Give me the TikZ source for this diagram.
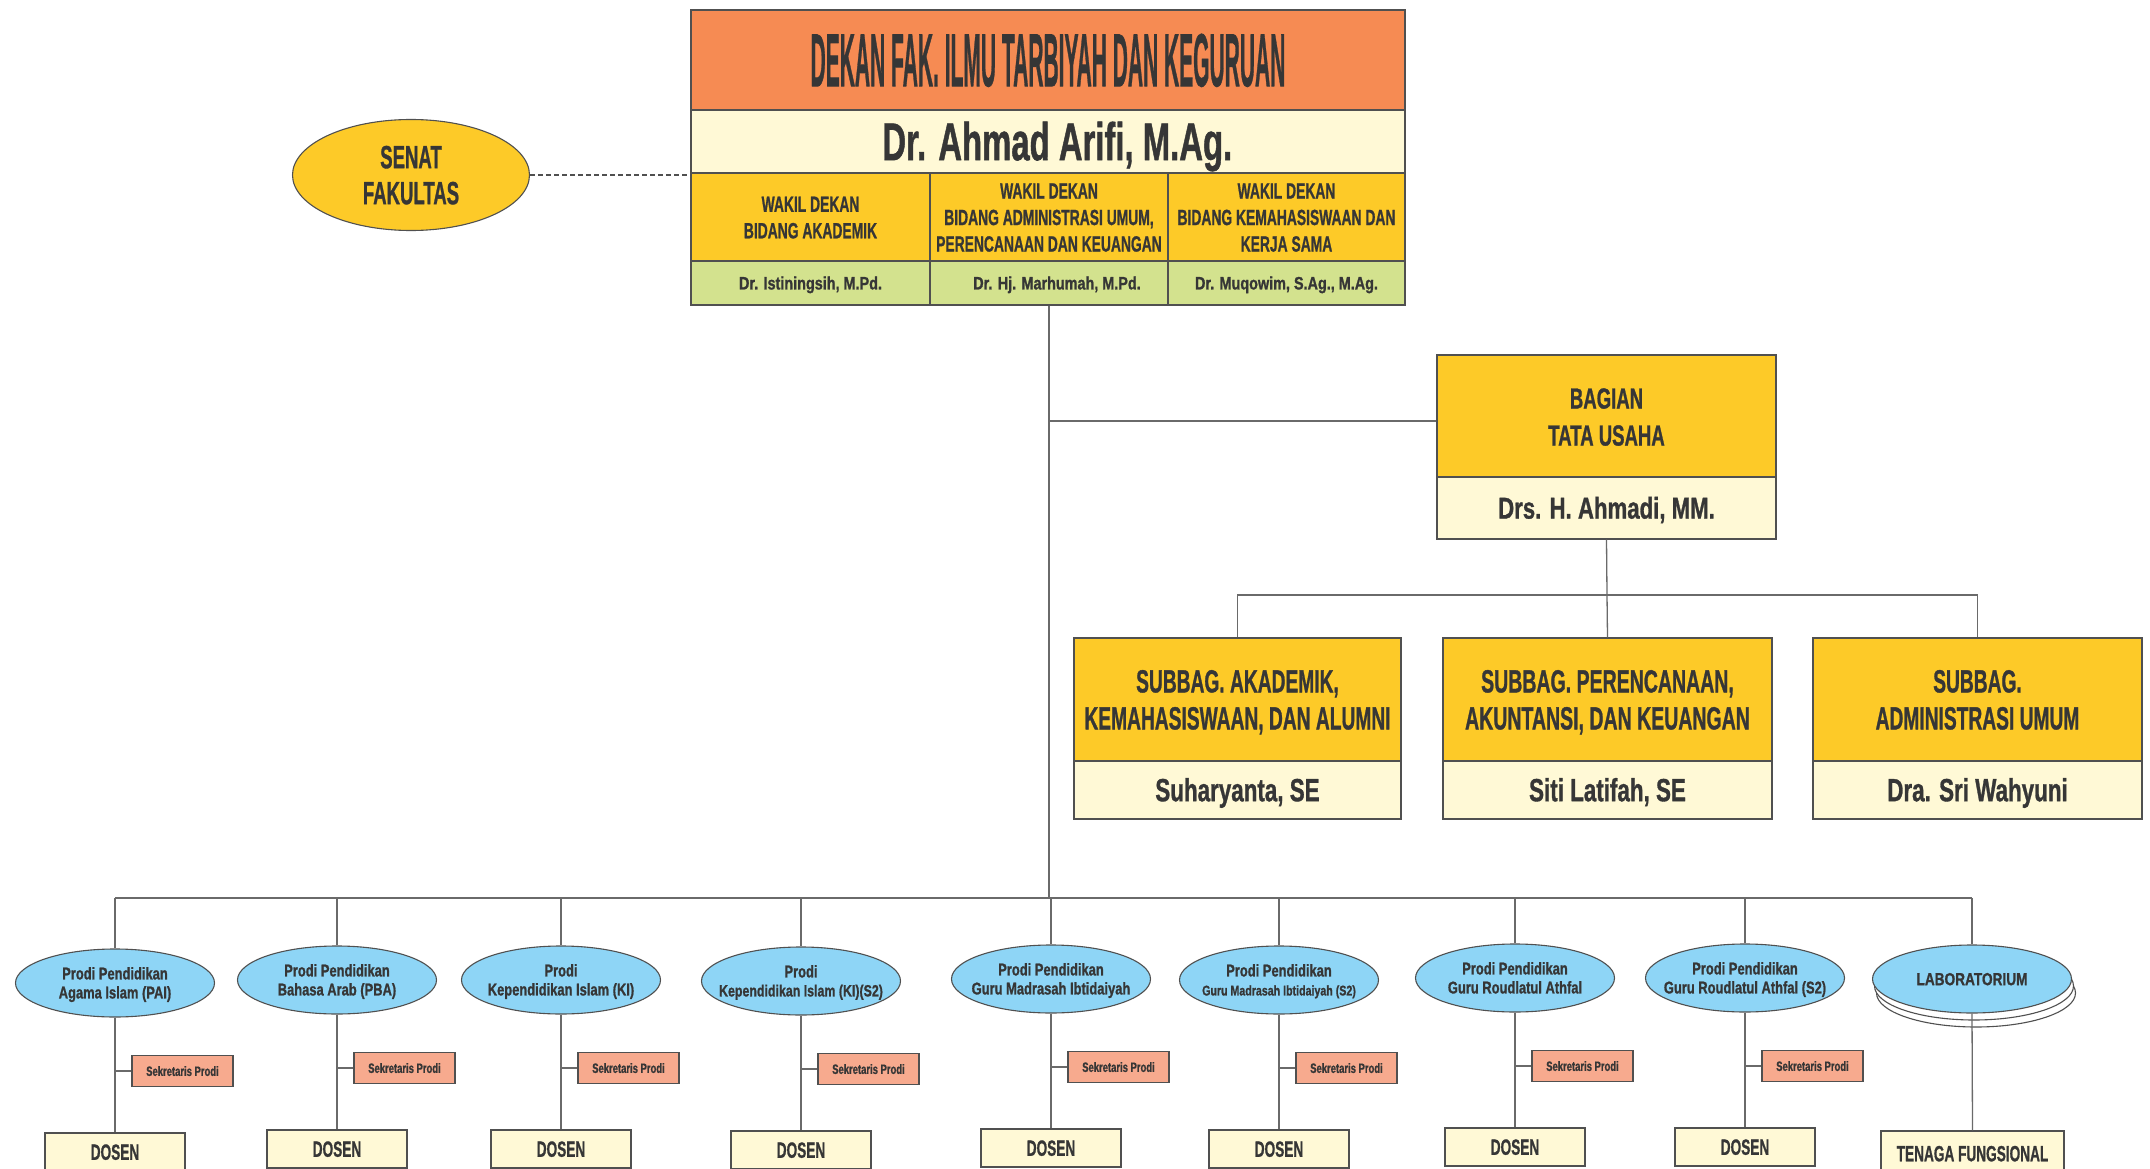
\documentclass[tikz,border=0pt]{standalone}
\usepackage{fontspec}
\setmainfont{Liberation Sans}[BoldFeatures={FakeBold=1.2}]
\usepackage{graphicx}
\usetikzlibrary{shapes.geometric,calc}
\definecolor{cOrange}{HTML}{F68B53}
\definecolor{cCream}{HTML}{FFF9D6}
\definecolor{cYellow}{HTML}{FDCA28}
\definecolor{cGreen}{HTML}{D3E28E}
\definecolor{cBlue}{HTML}{8ED5F6}
\definecolor{cSalmon}{HTML}{F7AA8E}
\definecolor{cText}{HTML}{363636}
\definecolor{cEdge}{HTML}{505050}
\definecolor{cLine}{HTML}{6A6A6A}
% #1 horizontal squeeze, #2 font size, #3 baselineskip, #4 text
\newcommand\orgtxt[4]{{\fontsize{#2}{#3}\selectfont\bfseries\raisebox{-0.125em}[\height][\depth]{\scalebox{#1}[1]{\begin{tabular}{@{}c@{}}#4\end{tabular}}}}}
\newcommand\ztxt[4]{\makebox[0pt]{\orgtxt{#1}{#2}{#3}{#4}}}
\tikzset{
  box/.style={rectangle, draw=cEdge, line width=1.3pt, inner sep=0pt, text=cText},
  conn/.style={draw=cLine, line width=1.3pt},
  prodi/.style={ellipse, draw=cEdge, line width=1.1pt, fill=cBlue, minimum width=199pt, minimum height=68pt, inner sep=0pt, text=cText},
  sekbox/.style={box, fill=cSalmon, minimum width=101pt, minimum height=31pt},
  dosenbox/.style={box, fill=cCream, minimum width=140pt, minimum height=38pt},
}
\begin{document}
\begin{tikzpicture}[x=1pt,y=-1pt]
\useasboundingbox (0,0) rectangle (2150,1169);
\fill[white] (0,0) rectangle (2150,1169);

% ---------- Dekan block ----------
\node[box, fill=cOrange, minimum width=714pt, minimum height=100pt] (dekan) at (1048,60)
  {\orgtxt{0.28}{75}{84}{DEKAN FAK. ILMU TARBIYAH DAN KEGURUAN}};
\node[box, fill=cCream, minimum width=714pt, minimum height=63pt] (dekanname) at (1048,141.5)
  {\orgtxt{0.62}{53}{60}{\hspace*{30pt}Dr. Ahmad Arifi, M.Ag.}};
\node[box, fill=cYellow, minimum width=239pt, minimum height=88pt] (wd1) at (810.5,217)
  {\orgtxt{0.63}{22}{26.5}{WAKIL DEKAN\\BIDANG AKADEMIK}};
\node[box, fill=cYellow, minimum width=238pt, minimum height=88pt] (wd2) at (1049,217)
  {\orgtxt{0.63}{22}{26.5}{WAKIL DEKAN\\BIDANG ADMINISTRASI UMUM,\\PERENCANAAN DAN KEUANGAN}};
\node[box, fill=cYellow, minimum width=237pt, minimum height=88pt] (wd3) at (1286.5,217)
  {\orgtxt{0.63}{22}{26.5}{WAKIL DEKAN\\BIDANG KEMAHASISWAAN DAN\\KERJA SAMA}};
\node[box, fill=cGreen, minimum width=239pt, minimum height=44pt] (n1) at (810.5,283)
  {\orgtxt{0.8}{18}{21}{Dr. Istiningsih, M.Pd.}};
\node[box, fill=cGreen, minimum width=238pt, minimum height=44pt] (n2) at (1049,283)
  {\orgtxt{0.8}{18}{21}{\hspace*{20pt}Dr. Hj. Marhumah, M.Pd.}};
\node[box, fill=cGreen, minimum width=237pt, minimum height=44pt] (n3) at (1286.5,283)
  {\orgtxt{0.8}{18}{21}{Dr. Muqowim, S.Ag., M.Ag.}};

% ---------- Senat ----------
\node[ellipse, draw=cEdge, line width=1.1pt, fill=cYellow, minimum width=237pt, minimum height=111pt, inner sep=0pt, text=cText] (senat) at (411,175)
  {\ztxt{0.58}{32}{36}{SENAT\\FAKULTAS}};

% ---------- Bagian Tata Usaha ----------
\node[box, fill=cYellow, minimum width=339pt, minimum height=122pt] (tu) at (1606.5,416)
  {\orgtxt{0.64}{29}{37}{BAGIAN\\TATA USAHA}};
\node[box, fill=cCream, minimum width=339pt, minimum height=62pt] (tuname) at (1606.5,508)
  {\orgtxt{0.74}{30}{34}{Drs. H. Ahmadi, MM.}};

% ---------- Subbag ----------
\node[box, fill=cYellow, minimum width=327pt, minimum height=123pt] (sb1) at (1237.5,699.5)
  {\orgtxt{0.6}{32}{37}{SUBBAG. AKADEMIK,\\KEMAHASISWAAN, DAN ALUMNI}};
\node[box, fill=cCream, minimum width=327pt, minimum height=58pt] (sb1n) at (1237.5,790)
  {\orgtxt{0.7}{32}{36}{Suharyanta, SE}};
\node[box, fill=cYellow, minimum width=329pt, minimum height=123pt] (sb2) at (1607.5,699.5)
  {\orgtxt{0.61}{32}{37}{SUBBAG. PERENCANAAN,\\AKUNTANSI, DAN KEUANGAN}};
\node[box, fill=cCream, minimum width=329pt, minimum height=58pt] (sb2n) at (1607.5,790)
  {\orgtxt{0.7}{32}{36}{Siti Latifah, SE}};
\node[box, fill=cYellow, minimum width=329pt, minimum height=123pt] (sb3) at (1977.5,699.5)
  {\orgtxt{0.6}{32}{37}{SUBBAG.\\ADMINISTRASI UMUM}};
\node[box, fill=cCream, minimum width=329pt, minimum height=58pt] (sb3n) at (1977.5,790)
  {\orgtxt{0.7}{32}{36}{Dra. Sri Wahyuni}};

% ---------- Prodi ----------
\node[prodi] (p1) at (115,983) {\ztxt{0.76}{17}{19}{Prodi Pendidikan\\Agama Islam (PAI)}};
\node[prodi] (p2) at (337,980) {\ztxt{0.76}{17}{19}{Prodi Pendidikan\\Bahasa Arab (PBA)}};
\node[prodi] (p3) at (561,980) {\ztxt{0.76}{17}{19}{Prodi\\Kependidikan Islam (KI)}};
\node[prodi] (p4) at (801,981) {\ztxt{0.76}{17}{19}{Prodi\\{\fontsize{16.3}{19}\selectfont Kependidikan Islam (KI)(S2)}}};
\node[prodi] (p5) at (1051,979) {\ztxt{0.76}{17}{19}{Prodi Pendidikan\\Guru Madrasah Ibtidaiyah}};
\node[prodi] (p6) at (1279,980) {\ztxt{0.76}{17}{19}{Prodi Pendidikan\\{\fontsize{14}{19}\selectfont Guru Madrasah Ibtidaiyah (S2)}}};
\node[prodi] (p7) at (1515,978) {\ztxt{0.76}{17}{19}{Prodi Pendidikan\\Guru Roudlatul Athfal}};
\node[prodi] (p8) at (1745,978) {\ztxt{0.76}{17}{19}{Prodi Pendidikan\\Guru Roudlatul Athfal (S2)}};

% Laboratorium (stacked)
\node[prodi, fill=white] (lab3) at (1976,993) {};
\node[prodi, fill=white] (lab2) at (1974,986) {};
\node[prodi] (lab) at (1972,979) {\ztxt{0.78}{17.5}{20}{LABORATORIUM}};

\foreach \i in {1,...,8} {
  \node[sekbox] (sek\i) at ($(p\i.center)+(67.5,88)$) {\orgtxt{0.7}{13.5}{16}{Sekretaris Prodi}};
  \node[dosenbox] (dos\i) at ($(p\i.center)+(0,169)$) {\orgtxt{0.62}{22}{25}{DOSEN}};
}
\node[box, fill=cCream, minimum width=183pt, minimum height=45pt] (tenaga) at (1972.5,1153.5)
  {\orgtxt{0.62}{22}{25}{TENAGA FUNGSIONAL}};

% ---------- Connectors ----------
\coordinate (bus) at (1049,898);
\coordinate (sbus) at (1607,595);
\coordinate (tuj) at ($(tu.west)+(0,5)$);

\draw[draw=cEdge, line width=1.1pt, dash pattern=on 5pt off 3pt] (senat.east) -- (senat.east -| wd1.west);
\draw[conn] (n2.south) -- (bus);
\draw[conn] (tuj) -- (tuj -| n2.south);
\draw[conn] (tuname.south) -- (sbus);
\draw[conn] (sb1.north) -- (sb1.north |- sbus) -- (sb3.north |- sbus) -- (sb3.north);
\draw[conn] (sbus) -- (sb2.north);

\draw[conn] (p1.north |- bus) -- (lab.north |- bus);
\foreach \i in {1,...,8} {
  \draw[conn] (p\i.north |- bus) -- (p\i.north);
  \draw[conn] (p\i.south) -- (dos\i.north);
  \draw[conn] (sek\i.west) -- (sek\i.west -| p\i.south);
}
\draw[conn] (lab.north |- bus) -- (lab.north);
\draw[conn] (lab.south) -- (tenaga.north);
\end{tikzpicture}
\end{document}
